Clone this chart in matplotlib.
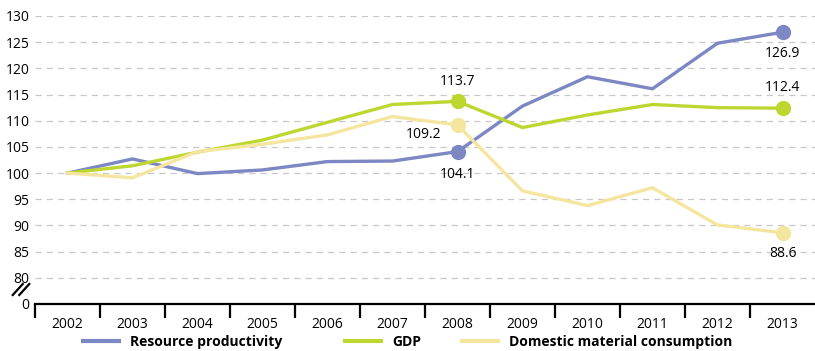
import matplotlib
matplotlib.use("Agg")
import matplotlib.pyplot as plt
from matplotlib.lines import Line2D
import numpy as np

years = ["2002", "2003", "2004", "2005", "2006", "2007",
         "2008", "2009", "2010", "2011", "2012", "2013"]
resource_productivity = [100.0, 102.7, 99.9, 100.6, 102.2, 102.3,
                         104.1, 112.8, 118.4, 116.1, 124.8, 126.9]
gdp = [100.0, 101.4, 104.0, 106.3, 109.7, 113.1,
       113.7, 108.7, 111.1, 113.1, 112.5, 112.4]
domestic_material_consumption = [100.0, 99.1, 104.1, 105.5, 107.3, 110.8,
                                 109.2, 96.6, 93.8, 97.2, 90.1, 88.6]
series_names = ["Resource productivity", "GDP", "Domestic material consumption"]
y_ticks = [80, 85, 90, 95, 100, 105, 110, 115, 120, 125, 130]

colors = ["#7c87c4", "#bed630", "#f4e69e"]
plt.rcParams["font.family"] = ["Open Sans", "DejaVu Sans"]

fig = plt.figure(figsize=(8.15, 3.51), dpi=100)
ax = fig.add_axes([35 / 815, 1 - 304 / 351, 780 / 815, (304 - 16) / 351])

x = np.arange(len(years))
series = [resource_productivity, gdp, domestic_material_consumption]
for vals, col, name in zip(series, colors, series_names):
    ax.plot(x, vals, color=col, lw=2.4, label=name, solid_joinstyle="miter",
            zorder=3)

# highlighted points for 2008 and 2013
idx = [6, 11]
for vals, col in zip(series, colors):
    ax.plot(x[idx], np.array(vals)[idx], "o", color=col, ms=11, zorder=4,
            mec="none")

fs = 10


def label(xi, vals, dx, dy, ha="center"):
    ax.annotate(f"{vals[xi]:.1f}", (x[xi], vals[xi]), xytext=(dx, dy),
                textcoords="offset points", ha=ha, va="center", fontsize=fs)


label(6, gdp, 0, 14.5)
label(6, domestic_material_consumption, -12, -7, ha="right")
label(6, resource_productivity, 0, -16.5)
label(11, resource_productivity, 0, -15)
label(11, gdp, 0, 15)
label(11, domestic_material_consumption, 0, -15)

# axes range: bottom of the plot stands for 0 after the axis break
ax.set_xlim(-0.5, 11.5)
ax.set_ylim(75, 130)

ax.set_yticks([75] + y_ticks)
ax.set_yticklabels(["0"] + [str(t) for t in y_ticks], fontsize=fs)
ax.tick_params(axis="y", length=0, pad=4)
for t in y_ticks:
    ax.axhline(t, color="#c8c8c8", lw=0.9, ls=(0, (5, 4)), zorder=1)

ax.set_xticks(np.arange(-0.5, 11, 1.0))
ax.set_xticklabels([])
ax.set_xticks(x, minor=True)
ax.set_xticklabels(years, minor=True, fontsize=fs)
ax.tick_params(axis="x", which="major", direction="out", length=10, width=1.6,
               color="black")
ax.tick_params(axis="x", which="minor", length=0, pad=9)

for s in ["top", "right", "left"]:
    ax.spines[s].set_visible(False)
ax.spines["bottom"].set_linewidth(1.6)

# axis break marks
for dx in (-0.004, 0.004):
    fig.add_artist(Line2D([16 / 815 + dx, 26 / 815 + dx],
                          [1 - 295 / 351, 1 - 284 / 351],
                          color="black", lw=1.6))

# legend entries placed individually along the bottom
legend_x = [81 / 815, 343 / 815, 460 / 815]
for name, col, lx in zip(series_names, colors, legend_x):
    h = Line2D([], [], color=col, lw=3, solid_capstyle="butt")
    fig.legend([h], [name], loc="center left", bbox_to_anchor=(lx, 1 - 342 / 351),
               frameon=False, handlelength=2.9, handletextpad=0.65,
               borderpad=0, borderaxespad=0,
               prop={"weight": "bold", "size": fs})

fig.savefig("out.png", dpi=100)
